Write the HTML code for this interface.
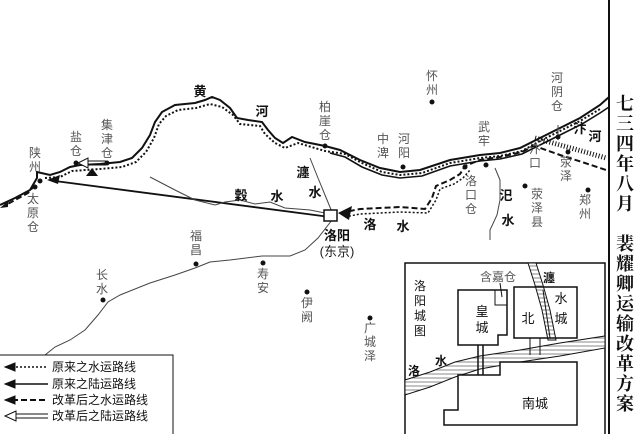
<!DOCTYPE html>
<html><head><meta charset="utf-8"><style>
html,body{margin:0;padding:0;background:#fff;}
svg{display:block;}
.g{font-family:"Liberation Sans","Noto Sans CJK SC",sans-serif;font-size:12px;fill:#555;}
.b{font-family:"Liberation Sans","Noto Sans CJK SC",sans-serif;font-size:13px;font-weight:bold;fill:#111;}
.t{font-family:"Liberation Serif","Noto Serif CJK SC",serif;font-size:18px;font-weight:bold;fill:#111;}
.l{font-family:"Liberation Sans","Noto Sans CJK SC",sans-serif;font-size:12px;fill:#111;}
</style></head><body>
<svg width="640" height="434" viewBox="0 0 640 434" xmlns="http://www.w3.org/2000/svg">
<defs>
<pattern id="h" width="4" height="4" patternUnits="userSpaceOnUse"><rect width="4" height="4" fill="#fff"/><line x1="0" y1="2" x2="4" y2="2" stroke="#888" stroke-width="1"/></pattern>
</defs>
<line x1="609" y1="0" x2="609" y2="434" stroke="#111" stroke-width="2"/>
<g class="t" text-anchor="middle">
<text x="625" y="110">七</text><text x="625" y="130">三</text><text x="625" y="150">四</text><text x="625" y="170">年</text><text x="625" y="190">八</text><text x="625" y="210">月</text>
<text x="625" y="250">裴</text><text x="625" y="270">耀</text><text x="625" y="290">卿</text><text x="625" y="310">运</text><text x="625" y="330">输</text><text x="625" y="350">改</text><text x="625" y="370">革</text><text x="625" y="390">方</text><text x="625" y="410">案</text>
</g>
<path d="M0,205 L15,198 L30,190 L37,178 L37,172 L50,175 L60,172 L70,167 L80,165 L100,164 L120,162 L132,158 L142,148 L150,135 L155,122 L162,112 L175,105 L195,103 L205,100 L212,97 L220,100 L230,108 L237,118 L248,120 L262,122 L268,130 L275,138 L283,143 L292,137 L305,142 L325,146 L340,150 L360,160 L380,168 L400,172 L420,170 L450,160 L480,155 L500,153 L520,148 L540,138 L560,128 L580,118 L600,105 L609,97" fill="none" stroke="#111" stroke-width="2"/>
<path d="M330,153 L345,157 L362,167 L382,175 L400,178 L422,176 L450,166 L480,161 L500,159 L522,154 L542,144 L562,134 L582,124 L600,113 L609,107" fill="none" stroke="#111" stroke-width="1.6"/>
<path d="M45,178 L60,177 L72,171 L100,169 L122,167 L136,162 L146,152 L154,138 L159,124 L166,116 L178,110 L196,108 L210,104 L222,107 L233,115 L240,124 L260,126 L265,134 L275,143 L285,148 L298,143 L325,151 L345,154 L362,163 L382,172 L400,175 L422,173 L450,163 L480,158 L500,156 L522,151 L540,141 L560,131 L580,121 L600,109" fill="none" stroke="#111" stroke-width="2" stroke-dasharray="2,2"/>
<path d="M35,185 L28,193 L15,200 L4,206" fill="none" stroke="#111" stroke-width="2" stroke-dasharray="6,3"/>
<polygon points="0,208 8,201 8,207" fill="#111"/>
<line x1="330" y1="217" x2="55" y2="181" stroke="#111" stroke-width="1.8"/>
<polygon points="47,180 60,175 58,184" fill="#111"/>
<line x1="82" y1="161" x2="106" y2="161" stroke="#111" stroke-width="1"/><line x1="82" y1="165" x2="106" y2="165" stroke="#111" stroke-width="1"/>
<polygon points="78,163 88,158 88,168" fill="#fff" stroke="#111"/>
<polygon points="86,176 92,168 98,176" fill="#111"/>
<path d="M340,213 L360,209 L400,207 L425,209 L432,198 L436,186 L450,180 L460,174 L465,166 L480,160 L500,157 L522,152 L535,145" fill="none" stroke="#111" stroke-width="2" stroke-dasharray="6,3"/>
<path d="M345,217 L360,214 L400,212 L428,213 L436,200 L440,189 L454,184 L463,178 L470,170" fill="none" stroke="#111" stroke-width="1.5" stroke-dasharray="2,2"/>
<polygon points="338,213 352,206 349,220" fill="#111"/>
<path d="M532,145 L560,155 L585,163 L606,170" fill="none" stroke="#111" stroke-width="2" stroke-dasharray="6,3"/>
<path d="M535,138 L560,145 L585,152 L606,158" fill="none" stroke="#111" stroke-width="5" stroke-dasharray="1,2"/>
<g fill="none" stroke="#444" stroke-width="1">
<path d="M150,177 L175,190 L195,200 L215,205 L225,202 L240,200 L255,204 L270,202 L285,208 L310,210 L330,214"/>
<path d="M310,158 L318,178 L325,195 L332,212"/>
<path d="M332,220 L318,238 L305,250 L290,256 L262,256 L230,260 L210,262 L195,268 L175,275 L150,283 L120,295 L108,302 L98,315 L85,330 L70,340 L55,347 L45,355"/>
<path d="M495,168 L500,180 L500,200 L497,215 L490,230 L490,240"/>
<path d="M558,125 L558,140"/>
</g>
<rect x="324" y="210" width="13" height="11" fill="#fff" stroke="#111" stroke-width="1.5"/>
<g fill="#111">
<circle cx="40" cy="181" r="2.5"/><circle cx="35" cy="187" r="2.5"/><circle cx="76" cy="163" r="2.5"/><circle cx="107" cy="163" r="2.5"/>
<circle cx="325" cy="146" r="2.5"/><circle cx="403" cy="167" r="2.5"/><circle cx="432" cy="102" r="2.5"/><circle cx="486" cy="165" r="2.5"/>
<circle cx="558" cy="137" r="2.5"/><circle cx="568" cy="152" r="2.5"/><circle cx="525" cy="186" r="2.5"/><circle cx="588" cy="190" r="2.5"/>
<circle cx="465" cy="167" r="2.5"/><circle cx="196" cy="264" r="2.5"/><circle cx="263" cy="263" r="2.5"/><circle cx="103" cy="300" r="2.5"/>
<circle cx="307" cy="292" r="2.5"/><circle cx="370" cy="318" r="2.5"/>
</g>
<g class="g" text-anchor="middle">
<text x="35" y="157">陕</text><text x="35" y="171">州</text>
<text x="33" y="203">太</text><text x="33" y="217">原</text><text x="33" y="231">仓</text>
<text x="76" y="141">盐</text><text x="76" y="155">仓</text>
<text x="107" y="129">集</text><text x="107" y="143">津</text><text x="107" y="157">仓</text>
<text x="325" y="111">柏</text><text x="325" y="125">崖</text><text x="325" y="139">仓</text>
<text x="383" y="143">中</text><text x="383" y="157">渒</text>
<text x="404" y="143">河</text><text x="404" y="157">阳</text>
<text x="432" y="80">怀</text><text x="432" y="94">州</text>
<text x="484" y="131">武</text><text x="484" y="145">牢</text>
<text x="557" y="82">河</text><text x="557" y="96">阴</text><text x="557" y="110">仓</text>
<text x="535" y="153">汴</text><text x="535" y="167">口</text>
<text x="566" y="166">荥</text><text x="566" y="180">泽</text>
<text x="537" y="198">荥</text><text x="537" y="212">泽</text><text x="537" y="226">县</text>
<text x="585" y="204">郑</text><text x="585" y="218">州</text>
<text x="471" y="185">洛</text><text x="471" y="199">口</text><text x="471" y="213">仓</text>
<text x="196" y="240">福</text><text x="196" y="254">昌</text>
<text x="263" y="278">寿</text><text x="263" y="292">安</text>
<text x="102" y="279">长</text><text x="102" y="293">水</text>
<text x="307" y="307">伊</text><text x="307" y="321">阙</text>
<text x="370" y="332">广</text><text x="370" y="346">城</text><text x="370" y="360">泽</text>
</g>
<g class="b" text-anchor="middle">
<text x="200" y="96">黄</text><text x="262" y="116">河</text>
<text x="303" y="177">瀍</text><text x="315" y="197">水</text>
<text x="241" y="200">穀</text><text x="277" y="201">水</text>
<text x="370" y="229">洛</text><text x="403" y="231">水</text>
<text x="506" y="200">汜</text><text x="508" y="225">水</text>
<text x="580" y="133">汴</text><text x="595" y="141">河</text>
<text x="337" y="240">洛阳</text><text x="337" y="256" style="font-weight:normal;fill:#222">(东京)</text>
</g>
<rect x="-1" y="355" width="174" height="80" fill="#fff" stroke="#111" stroke-width="1"/>
<g stroke="#111">
<line x1="12" y1="367" x2="48" y2="367" stroke-width="1.5" stroke-dasharray="2,2"/><polygon points="5,367 15,363 15,371" fill="#111"/>
<line x1="12" y1="384" x2="48" y2="384" stroke-width="1.5"/><polygon points="5,384 15,380 15,388" fill="#111"/>
<line x1="12" y1="400" x2="48" y2="400" stroke-width="2" stroke-dasharray="6,3"/><polygon points="5,400 15,396 15,404" fill="#111"/>
<line x1="14" y1="414" x2="48" y2="414" stroke-width="1"/><line x1="14" y1="418" x2="48" y2="418" stroke-width="1"/><polygon points="5,416 16,411 16,421" fill="#fff"/>
</g>
<g class="l"><text x="52" y="371">原来之水运路线</text><text x="52" y="388">原来之陆运路线</text><text x="52" y="404">改革后之水运路线</text><text x="52" y="420">改革后之陆运路线</text></g>
<rect x="405" y="263" width="200" height="175" fill="#fff" stroke="#111" stroke-width="1.5"/>
<path d="M405,380 L430,372 L455,362 L480,356 L520,350 L560,343 L605,336 L605,348 L560,356 L520,362 L480,369 L455,377 L430,387 L405,395 Z" fill="url(#h)" stroke="#111" stroke-width="1"/>
<path d="M528,263 L535,285 L542,310 L548,340 L556,340 L550,310 L543,285 L536,263 Z" fill="url(#h)" stroke="#111" stroke-width="1"/>
<path d="M458,290 L507,290 L507,335 L498,335 L498,345 L458,345 Z" fill="#fff" stroke="#111" stroke-width="1.5"/>
<path d="M495,290 L495,305 L507,305" fill="none" stroke="#111"/>
<line x1="500" y1="283" x2="502" y2="297" stroke="#111"/>
<rect x="514" y="287" width="63" height="51" fill="none" stroke="#111" stroke-width="1.5"/>
<path d="M543,290 L550,338" fill="none" stroke="#111"/>
<path d="M500,362 L577,362 L577,425 L444,425 L444,410 L458,410 L458,375 L500,375 Z" fill="#fff" stroke="#111" stroke-width="1.5"/>
<line x1="478" y1="345" x2="478" y2="375" stroke="#111" stroke-width="1.5"/><line x1="483" y1="345" x2="483" y2="375" stroke="#111" stroke-width="1.5"/>
<line x1="530" y1="338" x2="530" y2="355" stroke="#111"/><line x1="540" y1="338" x2="540" y2="355" stroke="#111"/>
<g class="l" text-anchor="middle">
<text x="420" y="290">洛</text><text x="420" y="305">阳</text><text x="420" y="320">城</text><text x="420" y="335">图</text>
<text x="498" y="281" style="fill:#555">含嘉仓</text>
<text x="482" y="316" font-size="13">皇</text><text x="482" y="332" font-size="13">城</text>
<text x="528" y="323" font-size="13">北</text><text x="561" y="303" font-size="13">水</text><text x="561" y="323" font-size="13">城</text>
<text x="549" y="282" font-weight="bold">瀍</text>
<text x="414" y="375" font-weight="bold">洛</text><text x="441" y="365" font-weight="bold">水</text>
<text x="535" y="408" font-size="13">南城</text>
</g>
</svg>
</body></html>
